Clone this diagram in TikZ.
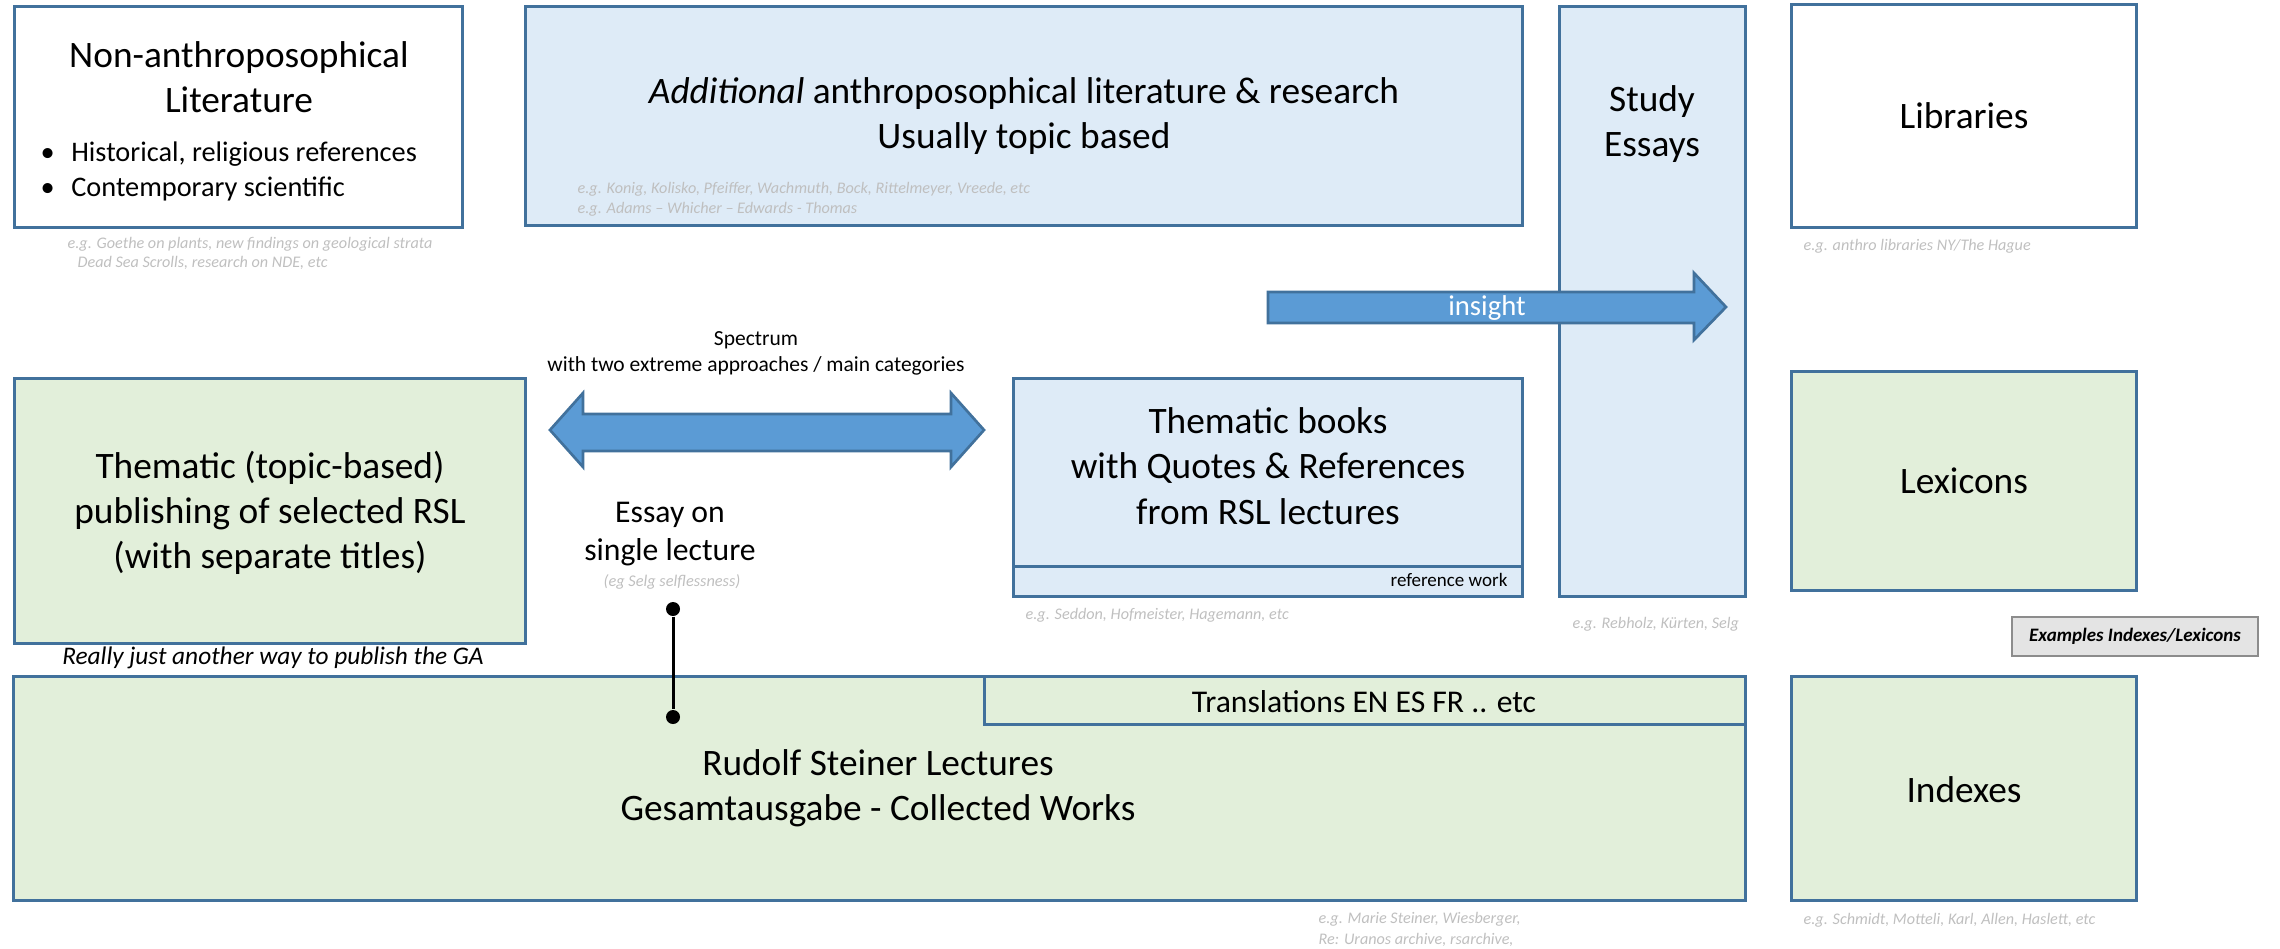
\documentclass[tikz,border=0pt]{standalone}
\usepackage{fontspec}
\setmainfont{Carlito}
\definecolor{bfill}{HTML}{DEEBF7}
\definecolor{gfill}{HTML}{E2EFDA}
\definecolor{bord}{HTML}{41719C}
\definecolor{afill}{HTML}{5B9BD5}
\definecolor{gtext}{HTML}{BFBFBF}
\definecolor{xfill}{HTML}{E4E4E4}
\definecolor{xbord}{HTML}{8C8C8C}
\tikzset{
  box/.style={draw=bord,line width=0.9pt},
  bluebox/.style={box,fill=bfill},
  greenbox/.style={box,fill=gfill},
  whitebox/.style={box,fill=white},
  big/.style={align=center,font=\fontsize{11.2}{13.6}\selectfont},
  mid/.style={align=center,font=\fontsize{9.5}{11.6}\selectfont},
  small/.style={align=center,font=\fontsize{6.45}{7.8}\selectfont},
  note/.style={anchor=west,align=left,text=gtext,font=\fontsize{4.85}{6.1}\itshape\selectfont,inner sep=0pt},
  blockarrow/.style={draw=bord,line width=0.8pt,fill=afill},
  dot/.style={circle,fill=black,inner sep=0pt,minimum size=4.2pt},
}
\begin{document}
\begin{tikzpicture}[x=0.3pt,y=-0.3pt]
\useasboundingbox (0,0) rectangle (2280,948);
% top row
\draw[whitebox] (14,6) rectangle (462,227);
\node[big] (nonanth) at (239,77) {Non-anthroposophical\\Literature};
\node[anchor=west,align=left,inner sep=0pt,font=\fontsize{8.5}{10.5}\selectfont] (bul) at (40,171)
  {\makebox[9.2pt][l]{\textbullet}Historical, religious references\\\makebox[9.2pt][l]{\textbullet}Contemporary scientific};
\node[note] (n1) at (67,244) {e.g. Goethe on plants, new findings on geological strata};
\node[note] (n1b) at (77,263) {Dead Sea Scrolls, research on NDE, etc};

\draw[bluebox] (525,6) rectangle (1522,225);
\node[big] (add) at (1024,116) {\textit{Additional} anthroposophical literature \& research\\Usually topic based};
\node[note] (n2) at (577,199) {e.g. Konig, Kolisko, Pfeiffer, Wachmuth, Bock, Rittelmeyer, Vreede, etc\\e.g. Adams -- Whicher -- Edwards - Thomas};

\draw[bluebox] (1559,6) rectangle (1745,596);
\node[big] (study) at (1652,124) {Study\\Essays};
\node[note] (n3) at (1572,624) {e.g. Rebholz, Kürten, Selg};

\draw[whitebox] (1791,4) rectangle (2136,227);
\node[big] (lib) at (1964,116) {Libraries};
\node[note] (n4) at (1803,246) {e.g. anthro libraries NY/The Hague};

% insight arrow
\draw[blockarrow] (1268,292) -- (1694,292) -- (1694,273) -- (1726,307) -- (1694,340) -- (1694,323) -- (1268,323) -- cycle;
\node[text=white,font=\fontsize{8.6}{10}\selectfont] (ins) at (1487,308) {insight};

% spectrum
\node[small] (spec) at (756,353) {Spectrum\\with two extreme approaches / main categories};
\draw[blockarrow] (550,430) -- (583,393) -- (583,414) -- (951,414) -- (951,393) -- (984,430) -- (951,467) -- (951,451) -- (583,451) -- (583,467) -- cycle;

% middle row
\draw[greenbox] (14,378) rectangle (525,643);
\node[big] (them) at (270,513) {Thematic (topic-based)\\publishing of selected RSL\\(with separate titles)};
\node[font=\fontsize{7.6}{8}\itshape\selectfont] (really) at (273,658) {Really just another way to publish the GA};

\node[mid] (essay) at (670,534) {Essay on\\single lecture};
\node[text=gtext,font=\fontsize{4.9}{6}\itshape\selectfont,inner sep=0pt] (eg) at (672,582) {(eg Selg selflessness)};

\draw[bluebox] (1013,378) rectangle (1522,596);
\draw[box] (1013,566) -- (1522,566);
\node[big] (tb) at (1268,466) {Thematic books\\with Quotes \& References\\from RSL lectures};
\node[anchor=east,font=\fontsize{5.7}{6}\selectfont,inner sep=0pt] (ref) at (1508,580) {reference work};
\node[note] (n5) at (1025,615) {e.g. Seddon, Hofmeister, Hagemann, etc};

\draw[greenbox] (1791,371) rectangle (2136,590);
\node[big] (lex) at (1964,481) {Lexicons};

\draw[draw=xbord,fill=xfill,line width=0.7pt] (2012,617) rectangle (2258,656);
\node[font=\fontsize{5.7}{6}\bfseries\itshape\selectfont] (exl) at (2135,636.5) {Examples Indexes/Lexicons};

% bottom row
\draw[greenbox] (13,676) rectangle (1745,900);
\draw[greenbox] (984,676) rectangle (1745,724);
\node[font=\fontsize{9.5}{10}\selectfont] (tr) at (1364,702) {Translations EN ES FR .. etc};
\node[big] (rsl) at (878,788) {Rudolf Steiner Lectures\\Gesamtausgabe - Collected Works};
\node[note] (n6) at (1318,929.5) {e.g. Marie Steiner, Wiesberger,\\Re: Uranos archive, rsarchive,};

\draw[greenbox] (1791,676) rectangle (2136,900);
\node[big] (idx) at (1964,790) {Indexes};
\node[note] (n7) at (1803,920) {e.g. Schmidt, Motteli, Karl, Allen, Haslett, etc};

% connector
\node[dot] (d1) at (673,609) {};
\node[dot] (d2) at (673,717) {};
\draw[line width=0.9pt] (d1) -- (d2);
\end{tikzpicture}
\end{document}
